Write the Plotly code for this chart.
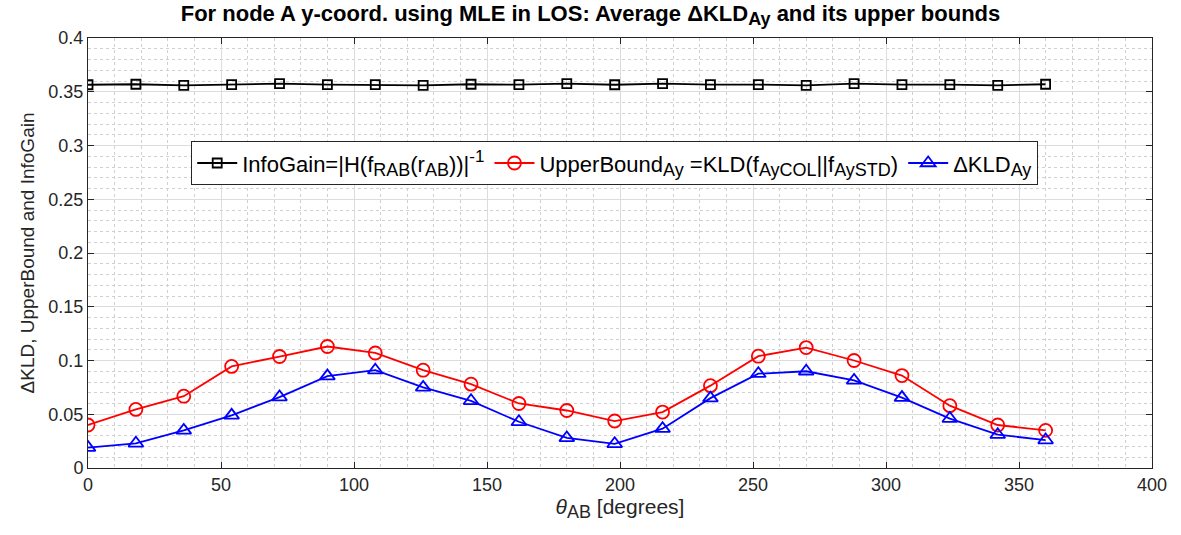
import plotly.graph_objects as go

theta = [0, 18, 36, 54, 72, 90, 108, 126, 144, 162, 180, 198, 216, 234, 252, 270, 288, 306, 324, 342, 360]
info_gain = [0.3565, 0.357, 0.356, 0.3566, 0.3575, 0.3566, 0.3566, 0.356, 0.357, 0.3566, 0.3575, 0.3565,
             0.3575, 0.3566, 0.3566, 0.356, 0.3575, 0.3566, 0.3566, 0.356, 0.357]
upper_bound = [0.040, 0.0545, 0.0668, 0.0945, 0.1037, 0.113, 0.107, 0.091, 0.078, 0.060, 0.0535, 0.0437,
               0.052, 0.0766, 0.104, 0.112, 0.100, 0.086, 0.058, 0.040, 0.035]
delta_kld = [0.019, 0.023, 0.035, 0.049, 0.066, 0.0855, 0.091, 0.075, 0.0625, 0.043, 0.028, 0.0225,
             0.0366, 0.065, 0.0877, 0.090, 0.0815, 0.0655, 0.046, 0.031, 0.026]


def sb(t, px=18):
    return f"<sub><span style='font-size:{px}px'>{t}</span></sub>"


names = [
    "InfoGain=|H(f" + sb("RAB") + "(r" + sb("AB") + "))|<sup><span style='font-size:17px'>-1</span></sup>",
    "UpperBound" + sb("Ay") + " =KLD(f" + sb("AyCOL") + "||f" + sb("AySTD") + ")",
    "ΔKLD" + sb("Ay"),
]

FONT = "Liberation Sans, Arial"

fig = go.Figure()
fig.add_trace(go.Scatter(x=theta, y=info_gain, mode="lines+markers", name=names[0],
                         line=dict(color="black", width=1.8),
                         marker=dict(symbol="square-open", size=9, color="black", line=dict(width=1.8))))
fig.add_trace(go.Scatter(x=theta, y=upper_bound, mode="lines+markers", name=names[1],
                         line=dict(color="red", width=1.8),
                         marker=dict(symbol="circle-open", size=13, color="red", line=dict(width=1.8))))
fig.add_trace(go.Scatter(x=theta, y=delta_kld, mode="lines+markers", name=names[2],
                         line=dict(color="blue", width=1.8),
                         marker=dict(symbol="triangle-up-open", size=13, color="blue", line=dict(width=1.8))))

axis_common = dict(
    showline=True, linecolor="#262626", linewidth=1, mirror="ticks",
    ticks="inside", ticklen=6, tickcolor="#262626",
    showgrid=True, gridcolor="#dcdcdc", gridwidth=1,
    zeroline=False,
    tickfont=dict(family=FONT, size=18, color="#262626"),
)

fig.update_xaxes(range=[0, 400], dtick=50, tick0=0,
                 minor=dict(dtick=10, showgrid=True, gridcolor="#d0d0d0", griddash="dot", gridwidth=1, ticks=""),
                 title=dict(text="<i>θ</i>" + sb("AB", 18) + " [degrees]", font=dict(family=FONT, size=21, color="#262626"), standoff=4),
                 **axis_common)
fig.update_yaxes(range=[0, 0.4], dtick=0.05, tick0=0,
                 minor=dict(dtick=0.01, showgrid=True, gridcolor="#d0d0d0", griddash="dot", gridwidth=1, ticks=""),
                 title=dict(text="ΔKLD, UpperBound and InfoGain", font=dict(family=FONT, size=19, color="#262626"), standoff=8),
                 **axis_common)

fig.update_layout(
    width=1181, height=535,
    margin=dict(l=88, r=29, t=38, b=67),
    paper_bgcolor="white", plot_bgcolor="white",
    title=dict(text="<b>For node A y-coord. using MLE in LOS: Average ΔKLD" + sb("Ay", 18) + " and its upper bounds</b>",
               x=0.5, xanchor="center", y=0.99, yanchor="top",
               font=dict(family=FONT, size=22, color="black")),
    legend=dict(orientation="h", x=0.097, y=0.76, xanchor="left", yanchor="top",
                bgcolor="white", bordercolor="#262626", borderwidth=1,
                font=dict(family=FONT, size=22, color="black"),
                itemwidth=40, tracegroupgap=0),
    showlegend=True,
)

fig.write_html("out.html")
